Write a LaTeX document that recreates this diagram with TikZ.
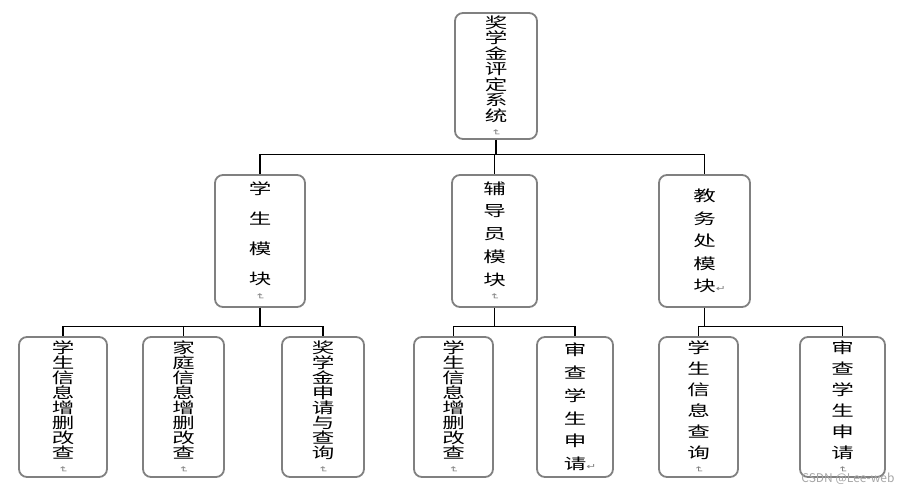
\documentclass[tikz,border=0pt]{standalone}
\usepackage{fontspec}
\usepackage{graphicx}
\setmainfont{Noto Sans CJK SC}
\newfontfamily\symfont{DejaVu Sans}
\usetikzlibrary{positioning}

% fixed line pitch for stacked characters
\newcommand{\setpitch}[1]{\fontsize{15}{#1}\selectfont\lineskiplimit=-50pt\relax\lineskip=0pt\relax}
% paragraph marks
\newcommand{\mk}{{\color{gray}\symfont\fontsize{8}{8}\selectfont\rotatebox{-90}{↵}}}
\newcommand{\mkr}{\rlap{\color{gray}\symfont\fontsize{8}{8}\selectfont ↵}}

\begin{document}
\begin{tikzpicture}[x=1pt,y=-1pt,
  box/.style={draw=gray,line width=1.8pt,rounded corners=8pt,inner sep=0pt,
    align=center,xscale=1.5,transform shape},
  link/.style={draw=black,line width=1.1pt}]
\useasboundingbox (0,0) rectangle (912,492);

\node[box,font=\setpitch{15.5},minimum width=82pt/1.5,minimum height=126pt] (root) at (496,76)
  {奖\\学\\金\\评\\定\\系\\统\\[-7pt]\mk};

\node[box,font=\setpitch{30},minimum width=90pt/1.5,minimum height=132pt] (stu) at (260,241)
  {学\\生\\模\\块\\[-21pt]\mk};
\node[box,font=\setpitch{22.75},minimum width=85pt/1.5,minimum height=132pt] (cou) at (494.5,241)
  {辅\\导\\员\\模\\块\\[-14pt]\mk};
\node[box,font=\setpitch{22.5},minimum width=91pt/1.5,minimum height=132pt] (off) at (704.5,241)
  {教\\务\\处\\模\\块\mkr};

\node[box,font=\setpitch{15},minimum width=88pt/1.5,minimum height=140pt] (s1) at (63,407)
  {学\\生\\信\\息\\增\\删\\改\\查\\[-7pt]\mk};
\node[box,font=\setpitch{15},minimum width=81pt/1.5,minimum height=140pt] (s2) at (183.5,407)
  {家\\庭\\信\\息\\增\\删\\改\\查\\[-7pt]\mk};
\node[box,font=\setpitch{15},minimum width=82pt/1.5,minimum height=140pt] (s3) at (323,407)
  {奖\\学\\金\\申\\请\\与\\查\\询\\[-7pt]\mk};

\node[box,font=\setpitch{15},minimum width=79pt/1.5,minimum height=140pt] (c1) at (453.5,407)
  {学\\生\\信\\息\\增\\删\\改\\查\\[-7pt]\mk};
\node[box,font=\setpitch{22.75},minimum width=76pt/1.5,minimum height=140pt] (c2) at (575,407)
  {审\\查\\学\\生\\申\\请\mkr};

\node[box,font=\setpitch{21},minimum width=79pt/1.5,minimum height=140pt] (o1) at (698.5,407)
  {学\\生\\信\\息\\查\\询\\[-13pt]\mk};
\node[box,font=\setpitch{21},minimum width=85pt/1.5,minimum height=140pt] (o2) at (842.5,407)
  {审\\查\\学\\生\\申\\请\\[-13pt]\mk};

\node[text=gray!70,font=\fontsize{12}{12}\selectfont,anchor=east] (wm) at (898,479)
  {CSDN @Lee-web};

% tree connectors
\foreach \c in {stu,cou,off}
  \draw[link] (root.south) -- ++(0,15) -| (\c.north);
\foreach \c in {s1,s2,s3}
  \draw[link] (stu.south) -- ++(0,19) -| (\c.north);
\foreach \c in {c1,c2}
  \draw[link] (cou.south) -- ++(0,19) -| (\c.north);
\foreach \c in {o1,o2}
  \draw[link] (off.south) -- ++(0,19) -| (\c.north);
\end{tikzpicture}
\end{document}
